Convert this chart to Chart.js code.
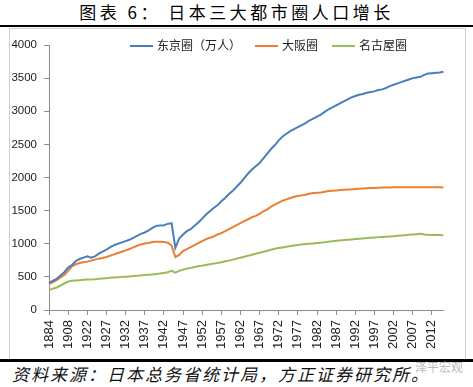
<!DOCTYPE html>
<html>
<head>
<meta charset="utf-8">
<script src="https://cdn.jsdelivr.net/npm/chart.js@4.4.1/dist/chart.umd.min.js"></script>
<style>
  body { margin: 0; width: 473px; height: 387px; background: #fff; position: relative; overflow: hidden; }
  #title { position: absolute; left: 0; top: 0; width: 473px; text-align: center; font: 400 17px "Noto Sans CJK SC"; letter-spacing: 3.5px; line-height: 24px; color: #000; }
  .rule { position: absolute; left: 0; width: 473px; background: #000; }
  #box { position: absolute; left: 9px; top: 28px; width: 455px; height: 331px; border: 1px solid #d0d0d0; border-bottom: none; }
  #salesChart { position: absolute; left: 10px; top: 29px; }
  #legend { position: absolute; top: 36px; left: 130px; font: 12px "Noto Sans CJK SC"; color: #222; white-space: nowrap; }
  #legend span.item { display: inline-block; margin-right: 14px; }
  #legend span.swatch { display: inline-block; width: 23px; height: 2px; vertical-align: middle; margin-right: 4px; position: relative; top: -1px; }
  #footer { position: absolute; left: 12px; top: 362px; font: italic 17px "Noto Sans CJK SC"; letter-spacing: 2px; line-height: 24px; color: #111; }
  #mark { position: absolute; left: 415px; top: 358px; font: 12px "Noto Sans CJK SC"; color: rgba(160,160,160,0.75); }
</style>
</head>
<body>
<div id="title">图表 6： 日本三大都市圈人口增长</div>
<div class="rule" style="top:25px;height:2px"></div>
<div id="box"></div>
<canvas id="salesChart" width="454" height="329"></canvas>
<div id="legend"></div>
<div class="rule" style="top:359px;height:3px"></div>
<div id="footer">资料来源：日本总务省统计局，方正证券研究所。</div>
<div id="mark">泽平宏观</div>
<script>
// 年份（前几期为不等间隔，1922年以后逐年）
const years = [1884, 1888, 1893, 1898, 1903, 1908, 1913, 1918, 1920, 1921];
for (let y = 1922; y <= 2015; y++) years.push(y);

const seriesNames = ['东京圈（万人）', '大阪圈', '名古屋圈'];
const seriesColors = ['#4a7ebb', '#ed7d31', '#9bbb59'];

const tokyo = [
  410, 440, 470, 520, 570, 640, 680, 740, 770, 790,
  810, 790, 810, 850, 880, 910, 950, 980, 1000, 1020,
  1040, 1060, 1090, 1120, 1150, 1170, 1200, 1240, 1270, 1275,
  1280, 1300, 1310, 940, 1080, 1140, 1190, 1220, 1270, 1320,
  1380, 1440, 1490, 1540, 1580, 1640, 1690, 1750, 1800, 1860,
  1920, 1990, 2060, 2120, 2170, 2220, 2290, 2360, 2430, 2490,
  2560, 2620, 2660, 2700, 2730, 2760, 2790, 2820, 2860, 2890,
  2920, 2950, 2990, 3030, 3060, 3090, 3120, 3150, 3180, 3210,
  3230, 3250, 3260, 3280, 3290, 3300, 3320, 3330, 3350, 3380,
  3400, 3420, 3440, 3460, 3480, 3500, 3510, 3520, 3550, 3570,
  3575, 3580, 3585, 3595
];
const osaka = [
  390, 420, 450, 490, 530, 590, 660, 690, 710, 720,
  730, 745, 760, 775, 785, 800, 820, 840, 860, 880,
  900, 920, 945, 970, 990, 1005, 1010, 1025, 1030, 1030,
  1025, 1015, 975, 800, 830, 890, 920, 950, 980, 1010,
  1040, 1070, 1090, 1110, 1140, 1160, 1190, 1220, 1250, 1280,
  1310, 1340, 1370, 1400, 1420, 1450, 1490, 1520, 1560, 1590,
  1620, 1650, 1670, 1690, 1710, 1720, 1730, 1740, 1755, 1765,
  1770, 1775, 1785, 1795, 1800, 1805, 1810, 1815, 1820, 1820,
  1825, 1830, 1835, 1838, 1840, 1842, 1845, 1848, 1850, 1850,
  1852, 1853, 1853, 1854, 1854, 1854, 1854, 1854, 1854, 1853,
  1852, 1852, 1851, 1850
];
const nagoya = [
  300, 320, 340, 370, 400, 430, 440, 445, 450, 455,
  460, 462, 465, 470, 475, 480, 485, 490, 495, 500,
  503, 507, 512, 517, 522, 527, 532, 537, 543, 550,
  560, 570, 590, 565, 590, 610, 625, 635, 650, 660,
  670, 680, 690, 700, 710, 720, 735, 745, 760, 775,
  790, 805, 820, 835, 850, 865, 880, 895, 910, 925,
  935, 945, 955, 965, 972, 980, 988, 995, 1000, 1005,
  1010, 1015, 1022, 1030, 1038, 1045, 1050, 1055, 1060, 1065,
  1070, 1075, 1080, 1085, 1090, 1095, 1100, 1103, 1106, 1110,
  1115, 1120, 1125, 1130, 1135, 1140, 1145, 1150, 1140, 1135,
  1132, 1131, 1131, 1130
];
const yTicks = [0, 500, 1000, 1500, 2000, 2500, 3000, 3500, 4000];

const axisColor = '#8c8c8c';
const allSeries = [tokyo, osaka, nagoya];

const chart = new Chart(document.getElementById('salesChart').getContext('2d'), {
  type: 'line',
  data: {
    labels: years.map(String),
    datasets: allSeries.map((d, i) => ({
      label: seriesNames[i],
      data: d,
      borderColor: seriesColors[i],
      backgroundColor: seriesColors[i],
      borderWidth: 2,
      pointRadius: 0,
      tension: 0
    }))
  },
  options: {
    responsive: false,
    devicePixelRatio: 1,
    animation: false,
    layout: { padding: { top: 16, right: 3, left: 0, bottom: 0 } },
    plugins: { legend: { display: false }, tooltip: { enabled: false } },
    scales: {
      x: {
        type: 'category',
        afterFit: s => { s.height = 48; },
        border: { color: axisColor },
        grid: {
          drawOnChartArea: false,
          tickLength: 5,
          tickColor: c => (c.index % 5 === 0 ? axisColor : 'rgba(0,0,0,0)')
        },
        ticks: {
          autoSkip: false,
          maxRotation: 90,
          minRotation: 90,
          padding: 5,
          color: '#222',
          font: { family: 'Liberation Sans', size: 13 },
          callback: (v, i) => (i % 5 === 0 ? years[i] : '')
        }
      },
      y: {
        min: 0,
        max: 4000,
        afterFit: s => { s.width = 39; },
        afterBuildTicks: s => { s.ticks = yTicks.map(v => ({ value: v })); },
        border: { color: axisColor },
        grid: { drawOnChartArea: false, tickLength: 5, tickColor: axisColor },
        ticks: {
          padding: 7,
          color: '#222',
          font: { family: 'Liberation Sans', size: 11.5 },
          callback: v => String(v)
        }
      }
    }
  }
});

// 图例
const legendBox = document.getElementById('legend');
chart.data.datasets.forEach(ds => {
  const item = document.createElement('span');
  item.className = 'item';
  item.innerHTML = `<span class="swatch" style="background:${ds.borderColor}"></span>${ds.label}`;
  legendBox.appendChild(item);
});
</script>
</body>
</html>
